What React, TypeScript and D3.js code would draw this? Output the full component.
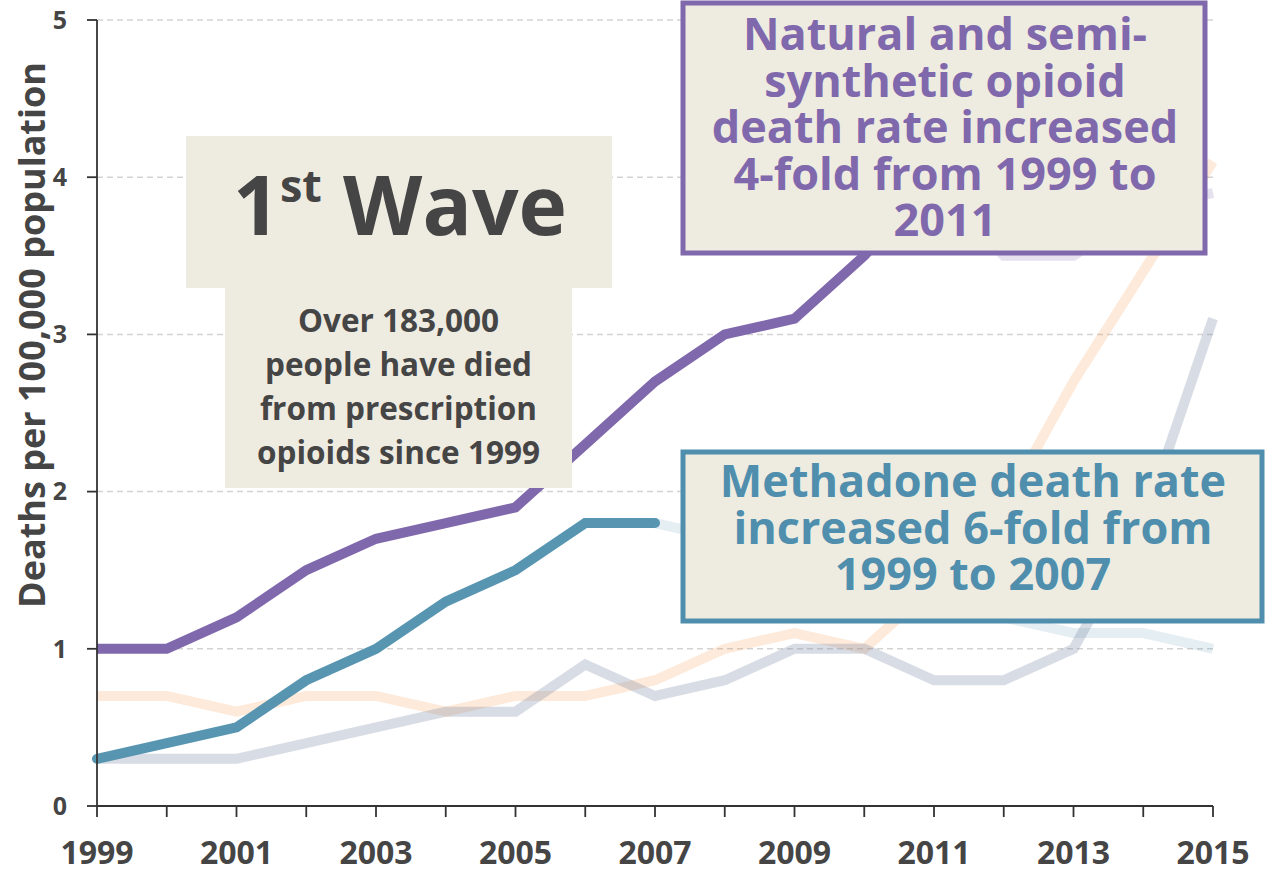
import React from 'react';
import * as d3 from 'd3';

const years = [1999, 2000, 2001, 2002, 2003, 2004, 2005, 2006, 2007, 2008, 2009, 2010, 2011, 2012, 2013, 2014, 2015];
const naturalSemi = [1.0, 1.0, 1.2, 1.5, 1.7, 1.8, 1.9, 2.3, 2.7, 3.0, 3.1, 3.5, 4.0, 3.5, 3.5, 3.8, 3.9];
const methadone = [0.3, 0.4, 0.5, 0.8, 1.0, 1.3, 1.5, 1.8, 1.8, 1.7, 1.6, 1.4, 1.3, 1.2, 1.1, 1.1, 1.0];
const heroin = [0.7, 0.7, 0.6, 0.7, 0.7, 0.6, 0.7, 0.7, 0.8, 1.0, 1.1, 1.0, 1.4, 1.9, 2.7, 3.4, 4.1];
const synthetic = [0.3, 0.3, 0.3, 0.4, 0.5, 0.6, 0.6, 0.9, 0.7, 0.8, 1.0, 1.0, 0.8, 0.8, 1.0, 1.8, 3.1];
const yTicks = [0, 1, 2, 3, 4, 5];
const gridTicks = [1, 2, 3, 4, 5];
const xLabelYears = [1999, 2001, 2003, 2005, 2007, 2009, 2011, 2013, 2015];
const naturalSolidEnd = 2011;
const methadoneSolidEnd = 2007;

const yTitle = 'Deaths per 100,000 population';
const waveSubLines = ['Over 183,000', 'people have died', 'from prescription', 'opioids since 1999'];
const naturalNoteLines = ['Natural and semi-', 'synthetic opioid', 'death rate increased', '4-fold from 1999 to', '2011'];
const methadoneNoteLines = ['Methadone death rate', 'increased 6-fold from', '1999 to 2007'];

const FONT = '"Open Sans", "Noto Sans", sans-serif';
const PURPLE = '#8068AC';
const TEAL = '#4F8FAD';
const ORANGE = '#F79646';
const GRAY = '#7F8AA6';
const BOX = '#EEEBE1';
const TEXT = '#454545';

type Pt = { year: number; v: number };

export default function App() {
  const W = 1267, H = 873;
  const x = d3.scaleLinear().domain([1999, 2015]).range([97, 1213]);
  const y = d3.scaleLinear().domain([0, 5]).range([806, 20]);
  const line = d3.line<Pt>().x(d => x(d.year)).y(d => y(d.v));
  const pts = (arr: number[]) => years.map((yr, i) => ({ year: yr, v: arr[i] }));

  const nat = pts(naturalSemi);
  const met = pts(methadone);
  const natSolid = nat.filter(p => p.year <= naturalSolidEnd);
  const natFaded = nat.filter(p => p.year >= naturalSolidEnd);
  const metSolid = met.filter(p => p.year <= methadoneSolidEnd);
  const metFaded = met.filter(p => p.year >= methadoneSolidEnd);

  return (
    <svg width={W} height={H} style={{ position: 'absolute', left: 0, top: 0, background: '#fff' }} fontFamily={FONT}>
      {/* grid */}
      {gridTicks.map(t => (
        <line key={t} x1={x(1999)} x2={x(2015)} y1={y(t)} y2={y(t)} stroke="#D3D3D3" strokeWidth={1.5} strokeDasharray="6,4" />
      ))}
      {/* faded series */}
      <path d={line(pts(heroin)) || ''} fill="none" stroke={ORANGE} strokeOpacity={0.2} strokeWidth={10} />
      <path d={line(pts(synthetic)) || ''} fill="none" stroke={GRAY} strokeOpacity={0.3} strokeWidth={10} />
      <path d={line(metFaded) || ''} fill="none" stroke={TEAL} strokeOpacity={0.15} strokeWidth={10} />
      <path d={line(natFaded) || ''} fill="none" stroke={PURPLE} strokeOpacity={0.2} strokeWidth={10} />
      {/* solid series */}
      <path d={line(metSolid) || ''} fill="none" stroke={TEAL} strokeOpacity={0.95} strokeWidth={10} strokeLinecap="round" />
      <path d={line(natSolid) || ''} fill="none" stroke={PURPLE} strokeWidth={10} />

      {/* axes */}
      <line x1={x(1999)} x2={x(1999)} y1={y(5)} y2={y(0)} stroke="#333" strokeWidth={1.8} />
      <line x1={x(1999)} x2={x(2015)} y1={y(0)} y2={y(0)} stroke="#333" strokeWidth={1.8} />
      {yTicks.map(t => (
        <g key={t}>
          <line x1={x(1999) - 10} x2={x(1999)} y1={y(t)} y2={y(t)} stroke="#333" strokeWidth={1.8} />
          <text x={67} y={y(t)} dy="0.35em" textAnchor="end" fontSize={25} fontWeight={700} fill={TEXT}>{t}</text>
        </g>
      ))}
      {years.map(yr => (
        <line key={yr} x1={x(yr)} x2={x(yr)} y1={y(0)} y2={y(0) + 11} stroke="#333" strokeWidth={1.8} />
      ))}
      {xLabelYears.map(yr => (
        <text key={yr} x={x(yr)} y={864} textAnchor="middle" fontSize={32} fontWeight={700} fill={TEXT}>{yr}</text>
      ))}
      <text transform="translate(45,335) rotate(-90)" textAnchor="middle" fontSize={36} fontWeight={700} fill={TEXT}>{yTitle}</text>

      {/* 1st wave box */}
      <rect x={186} y={136} width={426} height={152} fill={BOX} />
      <rect x={225} y={287} width={347} height={201} fill={BOX} />
      <text x={400} y={235} textAnchor="middle" fontSize={82} fontWeight={700} fill={TEXT}>
        1<tspan fontSize={45} dy={-33}>st</tspan><tspan dy={33}> Wave</tspan>
      </text>
      {waveSubLines.map((s, i) => (
        <text key={s} x={398.5} y={332 + i * 44} textAnchor="middle" fontSize={31.5} fontWeight={700} fill={TEXT}>{s}</text>
      ))}

      {/* natural note */}
      <rect x={683} y={3} width={522} height={250} fill={BOX} stroke={PURPLE} strokeWidth={5} />
      {naturalNoteLines.map((s, i) => (
        <text key={s} x={945} y={50 + i * 46.5} textAnchor="middle" fontSize={45} fontWeight={700} fill={PURPLE}>{s}</text>
      ))}

      {/* methadone note */}
      <rect x={683} y={452} width={579} height={169} fill={BOX} stroke={TEAL} strokeWidth={5} />
      {methadoneNoteLines.map((s, i) => (
        <text key={s} x={973} y={497 + i * 46.5} textAnchor="middle" fontSize={45} fontWeight={700} fill={TEAL}>{s}</text>
      ))}
    </svg>
  );
}
